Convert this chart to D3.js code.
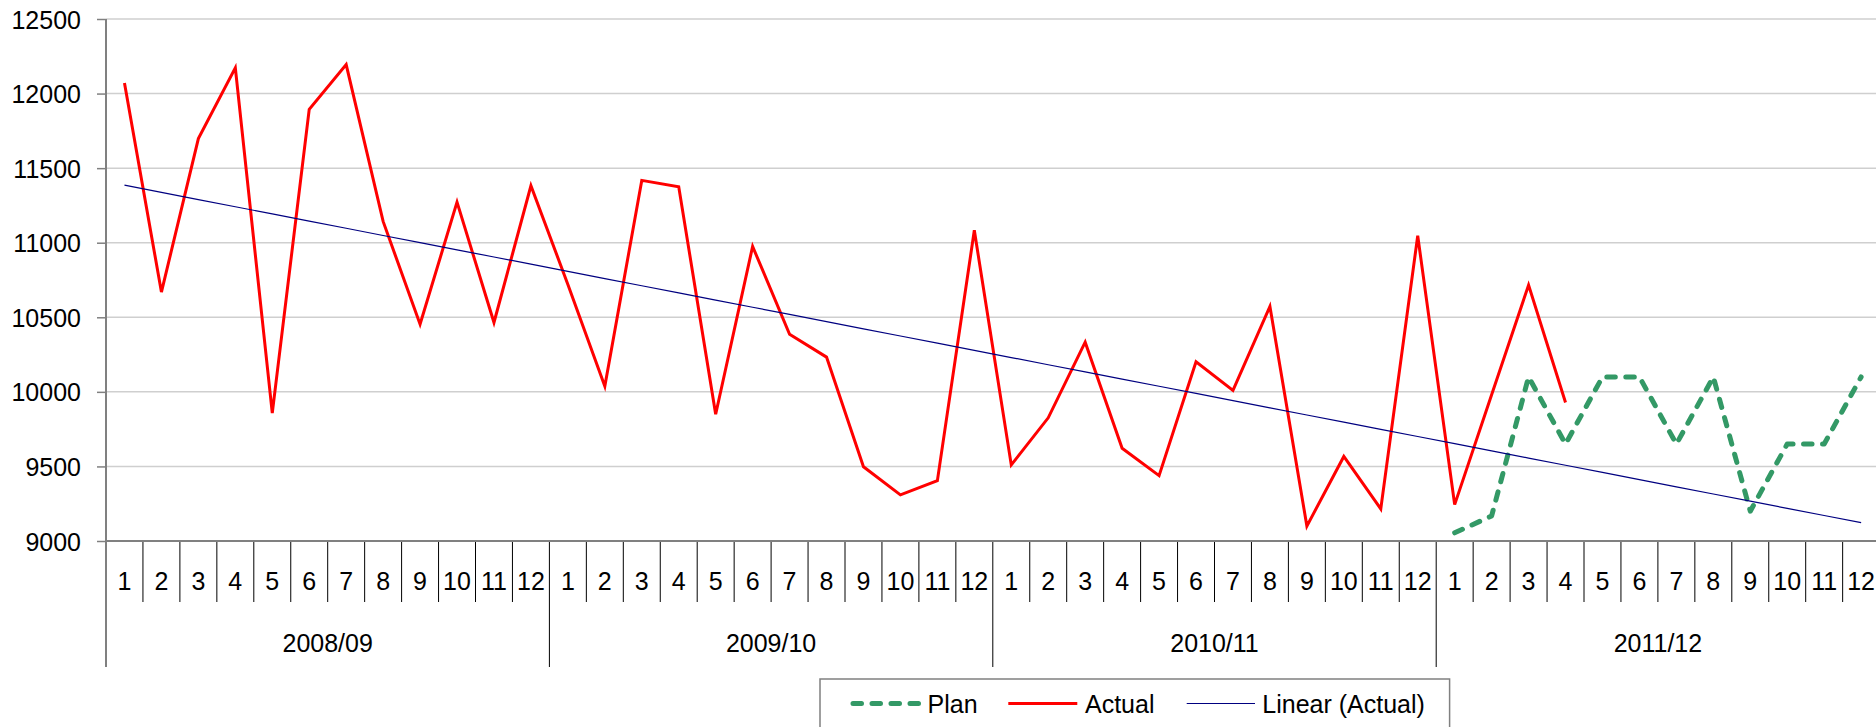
<!DOCTYPE html>
<html>
<head>
<meta charset="utf-8">
<script src="https://cdn.jsdelivr.net/npm/d3@7"></script>
<style>
  html, body { margin: 0; padding: 0; background: #fff; }
  svg { display: block; font-family: "Liberation Sans", Arial, sans-serif; }
</style>
</head>
<body>
<svg id="chart" width="1876" height="727"></svg>
<script>
// Financial years and months shown along the category axis
const years = ["2008/09", "2009/10", "2010/11", "2011/12"];
const months = ["1", "2", "3", "4", "5", "6", "7", "8", "9", "10", "11", "12"];

// Monthly actuals (first 40 months)
const actual = [
  12071, 10669, 11698, 12172, 9857, 11894, 12194, 11143, 10453, 11272, 10465, 11382,
  10720, 10037, 11418, 11375, 9850, 10975, 10386, 10233, 9498, 9309, 9405, 11083,
  9510, 9826, 10333, 9622, 9438, 10202, 10010, 10573, 9100, 9567, 9215, 11047,
  9244, 9980, 10716, 9929
];

// Plan for the final year (months 37-48)
const plan = [9055, 9168, 10100, 9650, 10100, 10100, 9650, 10100, 9200, 9650, 9650, 10100];
const planStart = 36;

// Value axis ticks
const yTicks = [9000, 9500, 10000, 10500, 11000, 11500, 12000, 12500];

const legendItems = ["Plan", "Actual", "Linear (Actual)"];

const FONT = 25;
const plotLeft = 106, plotTop = 19, plotBottom = 541;
const nCats = years.length * months.length;
const catW = 36.95;
const plotRight = plotLeft + nCats * catW;

const svg = d3.select("#chart");

const idx = d3.range(nCats);
const x = d3.scaleBand().domain(idx).range([plotLeft, plotRight]).padding(0);
const cx = i => x(i) + x.bandwidth() / 2;
const y = d3.scaleLinear().domain([yTicks[0], yTicks[yTicks.length - 1]]).range([plotBottom, plotTop]);

// Horizontal gridlines
svg.append("g")
  .selectAll("line")
  .data(yTicks.slice(1))
  .join("line")
  .attr("x1", plotLeft).attr("x2", plotRight)
  .attr("y1", d => y(d)).attr("y2", d => y(d))
  .attr("stroke", "#cfcfcf").attr("stroke-width", 1.5);

// Value axis
const yAxis = svg.append("g")
  .attr("transform", `translate(${plotLeft},0)`)
  .call(d3.axisLeft(y).tickValues(yTicks).tickSize(9).tickPadding(16).tickFormat(d3.format("d")));
yAxis.select(".domain").remove();
yAxis.selectAll(".tick line").attr("stroke", "#808080").attr("stroke-width", 1.5);
yAxis.selectAll(".tick text")
  .attr("font-size", FONT).attr("fill", "#000")
  .attr("font-family", "Liberation Sans, Arial, sans-serif")
  .attr("dy", "0.36em");

// Month separators and year separators under the category axis
const gx = svg.append("g");
gx.selectAll("line.month")
  .data(idx.slice(1).filter(i => i % months.length !== 0))
  .join("line")
  .attr("class", "month")
  .attr("x1", i => x(i)).attr("x2", i => x(i))
  .attr("y1", plotBottom).attr("y2", 602)
  .attr("stroke", "#000").attr("stroke-width", 1);
gx.selectAll("line.year")
  .data(d3.range(1, years.length))
  .join("line")
  .attr("class", "year")
  .attr("x1", k => x(k * months.length)).attr("x2", k => x(k * months.length))
  .attr("y1", plotBottom).attr("y2", 667)
  .attr("stroke", "#000").attr("stroke-width", 1);

// Month labels
gx.selectAll("text.month")
  .data(idx)
  .join("text")
  .attr("class", "month")
  .attr("x", i => cx(i))
  .attr("y", 590)
  .attr("text-anchor", "middle")
  .attr("font-size", FONT)
  .text(i => months[i % months.length]);

// Year labels
gx.selectAll("text.year")
  .data(years)
  .join("text")
  .attr("class", "year")
  .attr("x", (d, k) => (x(k * months.length) + x(k * months.length + months.length - 1) + x.bandwidth()) / 2)
  .attr("y", 652)
  .attr("text-anchor", "middle")
  .attr("font-size", FONT)
  .text(d => d);

// Axis lines
svg.append("line")
  .attr("x1", plotLeft).attr("x2", plotRight)
  .attr("y1", plotBottom).attr("y2", plotBottom)
  .attr("stroke", "#808080").attr("stroke-width", 2);
svg.append("line")
  .attr("x1", plotLeft).attr("x2", plotLeft)
  .attr("y1", plotTop).attr("y2", 667)
  .attr("stroke", "#808080").attr("stroke-width", 2);

// Least-squares trend of the actuals, extended across every month
const xs = actual.map((d, i) => i + 1);
const mx = d3.mean(xs), my = d3.mean(actual);
const slope = d3.sum(actual, (d, i) => (xs[i] - mx) * (d - my)) / d3.sum(xs, v => (v - mx) ** 2);
const intercept = my - slope * mx;
const trend = idx.map(i => intercept + slope * (i + 1));

const line = d3.line().x(d => cx(d[0])).y(d => y(d[1]));

// Plan series
svg.append("path")
  .datum(plan.map((v, k) => [planStart + k, v]))
  .attr("d", line)
  .attr("fill", "none")
  .attr("stroke", "#339966")
  .attr("stroke-width", 5)
  .attr("stroke-linecap", "round")
  .attr("stroke-linejoin", "round")
  .attr("stroke-dasharray", "8.5,10.5");

// Actual series
svg.append("path")
  .datum(actual.map((v, i) => [i, v]))
  .attr("d", line)
  .attr("fill", "none")
  .attr("stroke", "#ff0000")
  .attr("stroke-width", 3)
  .attr("stroke-linejoin", "miter");

// Trend line
svg.append("path")
  .datum(trend.map((v, i) => [i, v]))
  .attr("d", line)
  .attr("fill", "none")
  .attr("stroke", "#000080")
  .attr("stroke-width", 1.2);

// Legend
const lg = svg.append("g");
lg.append("rect")
  .attr("x", 820).attr("y", 679)
  .attr("width", 629.6).attr("height", 70)
  .attr("fill", "#fff").attr("stroke", "#808080").attr("stroke-width", 1.5);

const legendSwatches = [
  { x1: 853, x2: 919, stroke: "#339966", width: 5, dash: "8.5,10.5", cap: "round", tx: 927.5 },
  { x1: 1008.3, x2: 1077.3, stroke: "#ff0000", width: 3, dash: null, cap: "butt", tx: 1085 },
  { x1: 1186.7, x2: 1255, stroke: "#000080", width: 1.2, dash: null, cap: "butt", tx: 1262.3 }
];
legendSwatches.forEach((s, k) => {
  lg.append("line")
    .attr("x1", s.x1).attr("x2", s.x2)
    .attr("y1", 703.5).attr("y2", 703.5)
    .attr("stroke", s.stroke).attr("stroke-width", s.width)
    .attr("stroke-linecap", s.cap)
    .attr("stroke-dasharray", s.dash);
  lg.append("text")
    .attr("x", s.tx).attr("y", 713)
    .attr("font-size", FONT)
    .text(legendItems[k]);
});
</script>
</body>
</html>
